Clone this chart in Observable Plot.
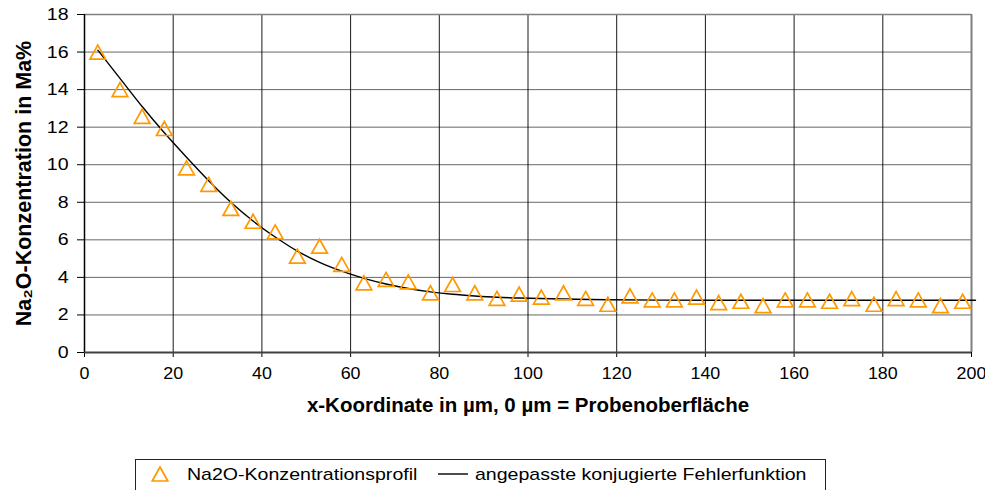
<!DOCTYPE html>
<html>
<head>
<meta charset="utf-8">
<script src="https://cdn.jsdelivr.net/npm/d3@7"></script>
<script src="https://cdn.jsdelivr.net/npm/@observablehq/plot@0.6"></script>
<style>
  html, body { margin: 0; padding: 0; background: #fff; }
  #chart { position: relative; width: 985px; height: 490px; overflow: hidden;
           font-family: "Liberation Sans", Arial, sans-serif; }
  #chart svg { display: block; }
  .legend { position: absolute; left: 135px; top: 459px; width: 691px; height: 44px;
            border: 1px solid #222; box-sizing: border-box; font-size: 17px; color: #000; }
  .legend .item { position: absolute; top: 14px; line-height: 1; white-space: nowrap;
                  transform: translateY(-50%) scaleX(1.15); transform-origin: left center; }
  .legend svg { position: absolute; }
</style>
</head>
<body>
<div id="chart"></div>
<script>
// Measured Na2O concentration profile (x in µm, concentration in Ma%)
const profileX = [3, 8, 13, 18, 23, 28, 33, 38, 43, 48, 53, 58, 63, 68, 73, 78, 83, 88, 93, 98,
                  103, 108, 113, 118, 123, 128, 133, 138, 143, 148, 153, 158, 163, 168, 173, 178, 183, 188, 193, 198];
const profileY = [16.0, 14.0, 12.58, 11.93, 9.83, 8.95, 7.67, 6.99, 6.42, 5.13, 5.66, 4.69, 3.71, 3.89, 3.76, 3.18, 3.62, 3.18, 2.88, 3.11,
                  2.95, 3.18, 2.88, 2.57, 3.02, 2.80, 2.80, 2.95, 2.66, 2.73, 2.50, 2.80, 2.80, 2.73, 2.87, 2.57, 2.87, 2.80, 2.50, 2.73];

// Fitted complementary error function curve
const fitX = [3, 8, 13, 18, 23, 28, 33, 38, 43, 48, 53, 58, 63, 68, 73, 78, 83, 88, 93, 98, 108, 118, 130, 150, 200.9];
const fitY = [16.1, 14.6, 13.1, 11.7, 10.4, 9.15, 8.0, 7.0, 6.15, 5.4, 4.8, 4.33, 3.95, 3.65, 3.41, 3.23, 3.1, 3.01, 2.94, 2.9, 2.85, 2.81, 2.79, 2.78, 2.78];

// Axis ticks
const xTicks = [0, 20, 40, 60, 80, 100, 120, 140, 160, 180, 200];
const yTicks = [0, 2, 4, 6, 8, 10, 12, 14, 16, 18];

const xTitle = "x-Koordinate in µm, 0 µm = Probenoberfläche";
const yTitle = "Na\u2082O-Konzentration in Ma%";
const seriesNames = ["Na2O-Konzentrationsprofil", "angepasste konjugierte Fehlerfunktion"];

const orange = "#FF9900";

const profile = profileX.map((x, i) => ({x, y: profileY[i]}));
const fit = fitX.map((x, i) => ({x, y: fitY[i]}));

// Open triangle marker centred on its bounding box
const boxTriangle = {
  draw(context, size) {
    const h = Math.sqrt(size) * 14 / Math.sqrt(Math.PI * 36);
    const w = h * 1.12;
    context.moveTo(0, -h / 2);
    context.lineTo(w / 2, h / 2);
    context.lineTo(-w / 2, h / 2);
    context.closePath();
  }
};

const chart = Plot.plot({
  width: 985,
  height: 440,
  marginLeft: 84,
  marginRight: 14,
  marginTop: 14,
  marginBottom: 88,
  style: {fontFamily: "'Liberation Sans', Arial, sans-serif", fontSize: "17px", color: "#000", background: "#fff"},
  x: {domain: [0, 200]},
  y: {domain: [0, 18]},
  marks: [
    Plot.gridY(yTicks, {stroke: "#000", strokeOpacity: 0.6, strokeWidth: 1}),
    Plot.gridX(xTicks, {stroke: "#000", strokeOpacity: 0.9, strokeWidth: 1}),
    Plot.ruleY([18], {stroke: "#808080", strokeWidth: 1.5}),
    Plot.ruleX([200], {stroke: "#808080", strokeWidth: 2}),
    Plot.axisX(xTicks, {tickSize: 5, tickPadding: 9, label: null, fontSize: 17}),
    Plot.axisY(yTicks, {tickSize: 7, tickPadding: 9, label: null, fontSize: 17}),
    Plot.ruleX([0], {stroke: "#000", strokeWidth: 1.5}),
    Plot.ruleY([0], {stroke: "#404040", strokeWidth: 2}),
    Plot.line(fit, {x: "x", y: "y", curve: "monotone-x", stroke: "#000", strokeWidth: 1.4}),
    Plot.dot(profile, {x: "x", y: "y", symbol: boxTriangle, r: 6, stroke: orange, strokeWidth: 1.7, fill: "none"}),
    Plot.text([xTitle], {frameAnchor: "bottom", dy: 59, text: d => d, textAnchor: "middle", fontWeight: "bold", fontSize: 20.5, fill: "#000"}),
    Plot.text([yTitle], {frameAnchor: "left", dx: -60, rotate: -90, text: d => d, textAnchor: "middle", fontWeight: "bold", fontSize: 21.5, fill: "#000"})
  ]
});

// Widen the regular y tick labels horizontally
function widen(el, k) {
  const x = +el.getAttribute("x") || 0, y = +el.getAttribute("y") || 0;
  const t = el.getAttribute("transform") || "";
  el.setAttribute("transform", `${t} translate(${x},${y}) scale(${k},1) translate(${-x},${-y})`);
}
chart.querySelectorAll("g[aria-label='y-axis tick label'] text").forEach(el => widen(el, 1.15));
chart.querySelectorAll("g[aria-label='x-axis tick label'] text").forEach(el => widen(el, 1.05));

const root = document.getElementById("chart");
root.appendChild(chart);

// Legend below the chart
const legend = document.createElement("div");
legend.className = "legend";
legend.innerHTML = `
  <svg width="20" height="20" style="left:14px;top:4px">
    <path d="M10,3 L17.8,17 L2.2,17 Z" fill="none" stroke="${orange}" stroke-width="1.7"/>
  </svg>
  <span class="item" style="left:51px">${seriesNames[0]}</span>
  <svg width="32" height="4" style="left:302px;top:12px">
    <line x1="0" y1="2" x2="30" y2="2" stroke="#000" stroke-width="1.4"/>
  </svg>
  <span class="item" style="left:339px">${seriesNames[1]}</span>`;
root.appendChild(legend);
</script>
</body>
</html>
